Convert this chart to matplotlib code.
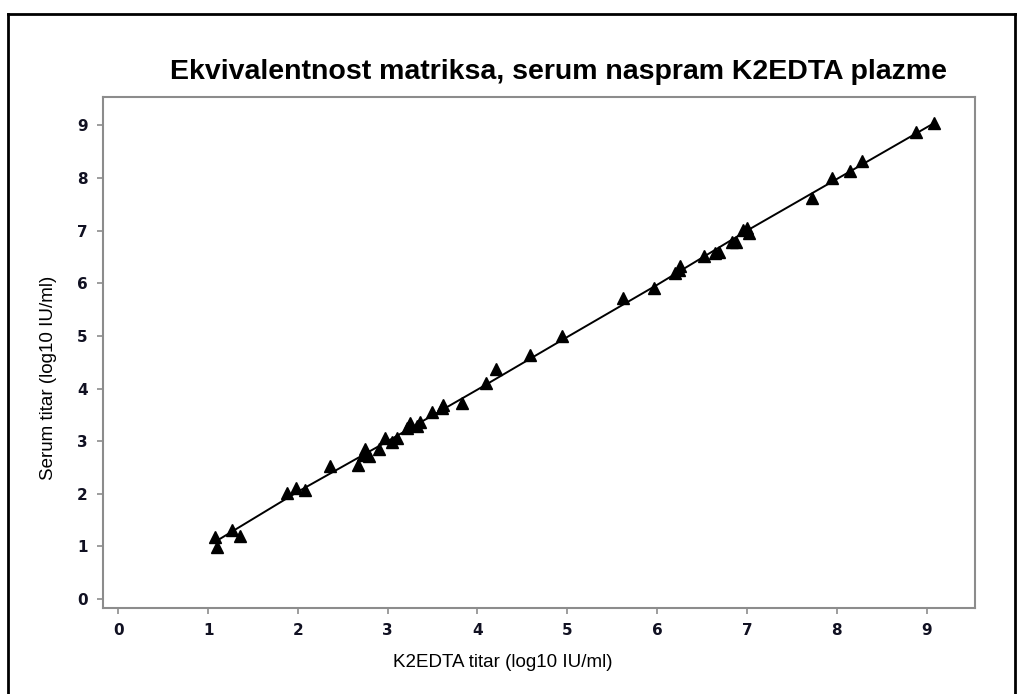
import matplotlib.pyplot as plt
from matplotlib.lines import Line2D

# K2EDTA plasma titer (x) vs serum titer (y), log10 IU/ml
k2edta = [1.08, 1.10, 1.27, 1.36, 1.88, 1.98, 2.08, 2.36, 2.67, 2.73, 2.75, 2.79,
          2.90, 2.97, 3.05, 3.10, 3.21, 3.25, 3.33, 3.36, 3.49, 3.60, 3.62, 3.83,
          4.09, 4.21, 4.59, 4.94, 5.62, 5.96, 6.20, 6.24, 6.26, 6.52, 6.65, 6.69,
          6.83, 6.88, 6.96, 7.00, 7.02, 7.72, 7.95, 8.15, 8.28, 8.88, 9.08]
serum = [1.18, 0.99, 1.31, 1.20, 2.02, 2.11, 2.07, 2.52, 2.55, 2.74, 2.86, 2.71,
         2.86, 3.06, 2.99, 3.06, 3.25, 3.34, 3.28, 3.37, 3.56, 3.63, 3.69, 3.72,
         4.10, 4.37, 4.64, 4.99, 5.72, 5.92, 6.19, 6.25, 6.32, 6.51, 6.57, 6.60,
         6.79, 6.79, 7.02, 7.06, 6.96, 7.62, 8.00, 8.14, 8.33, 8.87, 9.04]

# fitted line, read along its path
fit_x = [1.09, 2.0, 3.0, 4.0, 5.0, 6.0, 7.0, 8.0, 9.06]
fit_y = [1.10, 2.04, 3.0, 3.98, 4.98, 5.97, 7.0, 7.98, 9.02]

ticks = list(range(10))

fig = plt.figure(figsize=(10.23, 6.94), dpi=100)
ax = fig.add_axes([103 / 1023, 1 - 608 / 694, (975 - 103) / 1023, (608 - 97) / 694])

ax.plot(fit_x, fit_y, color='black', lw=1.4, zorder=2)
ax.plot(k2edta, serum, linestyle='none', marker='^', markersize=8,
        color='black', zorder=3)

ax.set_xlim(-0.17, 9.54)
ax.set_ylim(-0.17, 9.54)
ax.set_xticks(ticks)
ax.set_yticks(ticks)

gray = '#8c8c8c'
for s in ax.spines.values():
    s.set_color(gray)
    s.set_linewidth(1.5)
ax.tick_params(direction='out', length=4, width=1.2, color=gray,
               labelsize=11, labelcolor='#111122', pad=7)
for lab in ax.get_xticklabels() + ax.get_yticklabels():
    lab.set_fontweight('bold')

ax.set_xlabel('K2EDTA titar (log10 IU/ml)', fontsize=13.5,
              family='Liberation Sans', va='center')
ax.xaxis.set_label_coords(0.458, -0.106)
ax.set_ylabel('Serum titar (log10 IU/ml)', fontsize=13.5,
              family='Liberation Sans', va='center')
ax.yaxis.set_label_coords(-0.063, 0.45)

fig.text(559 / 1023, 1 - 72 / 694,
         'Ekvivalentnost matriksa, serum naspram K2EDTA plazme',
         ha='center', va='center', fontsize=20.5, fontweight='bold',
         family='Liberation Sans')

# outer frame
x0, x1 = 8 / 1023, 1015 / 1023
y0, y1 = 0.0, 1 - 14 / 694
for xs, ys in [([x0, x0], [y0, y1]), ([x0, x1], [y1, y1]), ([x1, x1], [y0, y1])]:
    fig.add_artist(Line2D(xs, ys, color='black', lw=2, transform=fig.transFigure))

fig.savefig('out.png', dpi=100)
